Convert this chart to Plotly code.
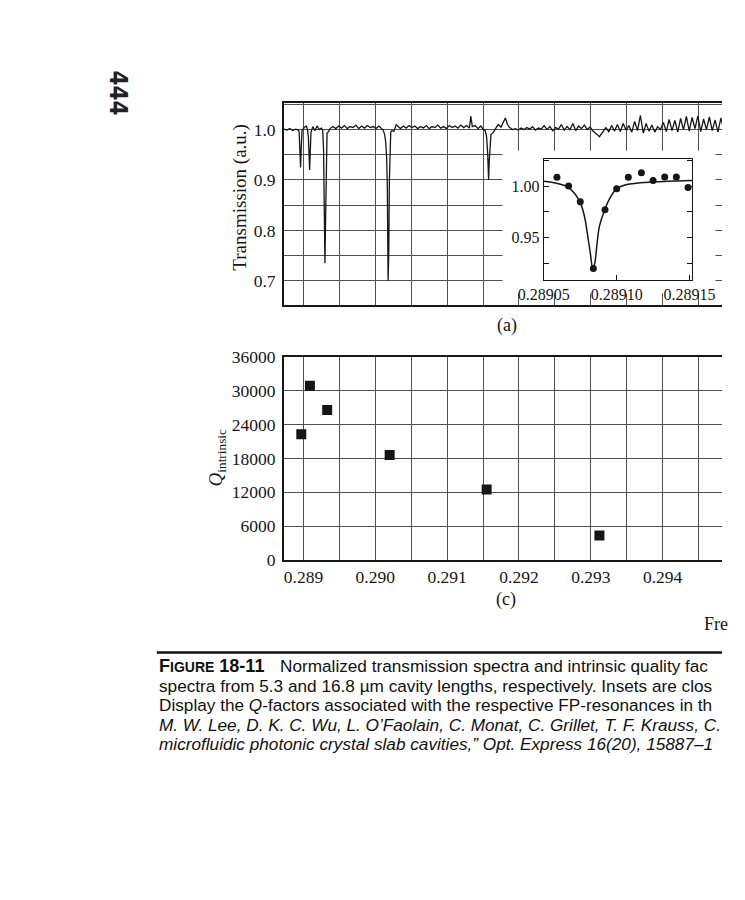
import plotly.graph_objects as go

# ---------------- data ----------------
# (a) transmission spectrum: frequency (a/lambda) and normalised transmission
spec_freq = [
    0.28873, 0.28877, 0.28881, 0.28885, 0.28889, 0.28893,
    0.28894, 0.288952, 0.28896, 0.288968, 0.28898, 0.28901, 0.28904, 0.289055,
    0.289068, 0.289078, 0.289086, 0.289094, 0.289105, 0.28913, 0.28916, 0.28919,
    0.28922, 0.28925, 0.289268,
    0.28928, 0.28929, 0.289299, 0.289308, 0.289317, 0.289328,
    0.28935, 0.28937, 0.28941, 0.28945, 0.28949, 0.28953, 0.28957, 0.28961,
    0.28965, 0.28969, 0.28973, 0.28977, 0.28981, 0.28985, 0.28989, 0.28993,
    0.28997, 0.29001, 0.29005, 0.29009,
    0.29011, 0.29013, 0.290145, 0.290158, 0.290168, 0.290178, 0.290188,
    0.290196, 0.290205, 0.290215, 0.29023,
    0.29026, 0.29029, 0.29032, 0.29035, 0.29039, 0.29043, 0.29047, 0.29051,
    0.29055, 0.29059, 0.29063, 0.29067, 0.29071, 0.29075, 0.29079, 0.29083,
    0.29087, 0.29091, 0.29095, 0.29099, 0.29103, 0.29107, 0.29111, 0.29115,
    0.29119, 0.29123, 0.29127, 0.29131, 0.29133, 0.29135, 0.29139, 0.29143,
    0.29147, 0.29150,
    0.29153, 0.29155, 0.291565, 0.291577, 0.291587, 0.291597, 0.29161,
    0.29164, 0.29167, 0.29171, 0.29175, 0.29178, 0.29181, 0.29184, 0.29187,
    0.29191, 0.29195, 0.29199, 0.29203, 0.29207, 0.29211, 0.29215, 0.29219,
    0.29223, 0.29227, 0.29231, 0.29235, 0.29239, 0.29243, 0.29247, 0.29251,
    0.29255, 0.29259, 0.29263, 0.29267, 0.29271, 0.29275, 0.29279, 0.29283,
    0.29287, 0.29291, 0.29295, 0.29299, 0.29303, 0.29306, 0.29309, 0.29312,
    0.29315, 0.29318, 0.29321, 0.29325, 0.29329, 0.29333, 0.29337, 0.29341,
    0.29345, 0.29349, 0.29353, 0.29357, 0.29361, 0.29365, 0.29369, 0.29373,
    0.29377, 0.29381, 0.29385, 0.29389, 0.29393, 0.29397, 0.29401, 0.29405,
    0.29409, 0.29413, 0.29417, 0.29421, 0.29425, 0.29429, 0.29433, 0.29437,
    0.29441, 0.29445, 0.29449, 0.29453, 0.29457, 0.29461, 0.29465, 0.29469,
    0.29473, 0.29477, 0.29481, 0.29485,
]
spec_trans = [
    1.001, 0.999, 1.002, 0.998, 1.001, 0.999,
    0.995, 0.950, 0.925, 0.960, 0.998, 1.004, 1.007, 1.001,
    0.985, 0.950, 0.920, 0.955, 0.995, 1.006, 0.998, 1.007,
    1.000, 1.003, 0.999,
    0.960, 0.850, 0.735, 0.820, 0.950, 0.993,
    0.996, 1.002, 1.006, 1.002, 1.007, 1.003, 1.008, 1.002,
    1.006, 1.004, 1.009, 1.002, 1.007, 1.003, 1.008, 1.004,
    1.006, 1.002, 1.007, 1.001,
    0.999, 0.990, 0.975, 0.945, 0.880, 0.700, 0.760,
    0.900, 0.975, 0.995, 0.998,
    0.997, 1.010, 1.005, 1.002, 1.007, 1.003, 1.008, 1.004,
    1.007, 1.002, 1.006, 1.003, 1.008, 1.002, 1.006, 1.004,
    1.009, 1.003, 1.006, 1.002, 1.008, 1.004, 1.007, 1.003,
    1.009, 1.004, 1.008, 1.003, 1.027, 1.006, 1.008, 1.002,
    1.007, 1.001,
    0.998, 0.985, 0.950, 0.900, 0.940, 0.975, 0.990,
    0.994, 1.001, 1.010, 1.005, 1.016, 1.023, 1.010, 1.004,
    1.000, 1.002, 0.999, 1.003, 1.000, 1.004, 1.001, 1.006,
    0.999, 1.003, 1.001, 1.008, 1.000, 1.006, 0.998, 1.004,
    1.001, 1.010, 0.999, 1.006, 1.000, 1.012, 0.998, 1.007,
    1.002, 1.009, 1.000, 1.005, 0.997, 0.994, 0.990, 0.986,
    0.992, 0.998, 1.004, 0.996, 1.008, 0.997, 1.010, 0.996,
    1.012, 0.999, 1.008, 0.995, 1.016, 0.998, 1.028, 0.993,
    1.012, 0.997, 1.009, 0.995, 1.006, 1.000, 1.014, 0.996,
    1.020, 0.998, 1.018, 0.995, 1.022, 1.000, 1.026, 0.997,
    1.024, 1.002, 1.027, 0.996, 1.021, 1.000, 1.025, 0.998,
    1.019, 0.995, 1.023, 1.001,
]

# inset: close-up of one resonance (measured points and fitted curve)
inset_freq = [0.289059, 0.289067, 0.289075, 0.289084, 0.289092, 0.289100,
              0.289108, 0.289117, 0.289125, 0.289133, 0.289141, 0.289149]
inset_trans = [1.0085, 1.0000, 0.9848, 0.9200, 0.9770, 0.9975,
               1.0085, 1.0130, 1.0054, 1.0088, 1.0088, 0.9987]
fit_freq = [0.28905, 0.289058, 0.289066, 0.289071, 0.289075, 0.289078,
            0.28908, 0.289082, 0.2890835, 0.289085, 0.2890865, 0.289088,
            0.289091, 0.289095, 0.2891, 0.289107, 0.289122, 0.289152]
fit_trans = [1.0047, 1.0030, 0.9995, 0.9930, 0.9840, 0.9700,
             0.9530, 0.9340, 0.9200, 0.9250, 0.9440, 0.9600,
             0.9740, 0.9874, 0.9975, 1.0016, 1.0038, 1.0054]

# (c) intrinsic Q of each resonance
q_freq = [0.28897, 0.28909, 0.28933, 0.29020, 0.29155, 0.29312]
q_val = [22300, 30900, 26600, 18600, 12500, 4300]

# tick labels
trans_tickvals = [0.7, 0.8, 0.9, 1.0]
trans_ticktext = ["0.7", "0.8", "0.9", "1.0"]
q_tickvals = [0, 6000, 12000, 18000, 24000, 30000, 36000]
q_ticktext = ["0", "6000", "12000", "18000", "24000", "30000", "36000"]
freq_tickvals = [0.289, 0.290, 0.291, 0.292, 0.293, 0.294]
freq_ticktext = ["0.289", "0.290", "0.291", "0.292", "0.293", "0.294"]
inset_xtickvals = [0.28905, 0.28910, 0.28915]
inset_xticktext = ["0.28905", "0.28910", "0.28915"]
inset_ytickvals = [0.95, 1.00]
inset_yticktext = ["0.95", "1.00"]

# caption text as visible on the (cropped) page
caption_first = "Normalized transmission spectra and intrinsic quality fac"
caption_lines = [
    "spectra from 5.3 and 16.8 µm cavity lengths, respectively. Insets are clos",
    "Display the <i>Q</i>-factors associated with the respective FP-resonances in th",
    "<i>M. W. Lee, D. K. C. Wu, L. O’Faolain, C. Monat, C. Grillet, T. F. Krauss, C.</i>",
    "<i>microfluidic photonic crystal slab cavities,” Opt. Express 16(20), 15887–1</i>",
]

# ---------------- figure ----------------
W, H = 745, 900


def fx(p):
    return p / W


def fy(p):
    return 1 - p / H


SERIF = "Liberation Serif, Times New Roman, serif"
SANS = "Liberation Sans, Arial, sans-serif"
INK = "#161616"
GRID = "#505050"
X_RANGE = [0.288727, 0.294826]

fig = go.Figure()

fig.add_trace(go.Scatter(x=spec_freq, y=spec_trans, mode="lines",
                         line=dict(color=INK, width=1.3),
                         xaxis="x", yaxis="y", showlegend=False))
fig.add_trace(go.Scatter(x=q_freq, y=q_val, mode="markers",
                         marker=dict(symbol="square", size=10, color=INK),
                         xaxis="x2", yaxis="y2", showlegend=False))
# blank white panel that the inset sits on
fig.add_trace(go.Scatter(x=[None], y=[None], xaxis="x3", yaxis="y3",
                         showlegend=False, hoverinfo="skip"))
fig.add_trace(go.Scatter(x=fit_freq, y=fit_trans, mode="lines",
                         line=dict(color=INK, width=1.5, shape="spline", smoothing=0.6),
                         xaxis="x4", yaxis="y4", showlegend=False))
fig.add_trace(go.Scatter(x=inset_freq, y=inset_trans, mode="markers",
                         marker=dict(size=7, color=INK),
                         xaxis="x4", yaxis="y4", showlegend=False))

tickfont = dict(family=SERIF, size=17.5, color=INK)
minor_x = dict(dtick=0.0005, tick0=0.289, showgrid=True, gridcolor=GRID,
               gridwidth=1, ticks="")

fig.update_layout(
    width=W, height=H, autosize=False,
    margin=dict(l=0, r=0, t=0, b=0),
    paper_bgcolor="white", plot_bgcolor="white",
    xaxis=dict(domain=[fx(276), 1], range=X_RANGE, anchor="y",
               showline=True, linecolor=INK, linewidth=1.5, mirror=True,
               ticks="", showticklabels=False, tickvals=freq_tickvals,
               showgrid=True, gridcolor=GRID, gridwidth=1, zeroline=False,
               minor=minor_x),
    yaxis=dict(domain=[fy(301.7), fy(95)], range=[0.652, 1.053], anchor="x",
               showline=True, linecolor=INK, linewidth=1.5, mirror=False,
               ticks="", tickvals=trans_tickvals, ticktext=trans_ticktext,
               tickfont=tickfont, ticklabelstandoff=3,
               showgrid=True, gridcolor=GRID, gridwidth=1,
               zeroline=False,
               minor=dict(dtick=0.05, tick0=0.7, showgrid=True,
                          gridcolor=GRID, gridwidth=1, ticks="")),
    xaxis2=dict(domain=[fx(276), 1], range=X_RANGE, anchor="y2",
                showline=True, linecolor=INK, linewidth=1.5, mirror=True,
                ticks="", tickvals=freq_tickvals, ticktext=freq_ticktext,
                tickfont=tickfont, showgrid=True, gridcolor=GRID, gridwidth=1,
                zeroline=False, minor=minor_x),
    yaxis2=dict(domain=[fy(562.3), fy(355)], range=[0, 36000], anchor="x2",
                showline=True, linecolor=INK, linewidth=1.5, mirror=False,
                ticks="", tickvals=q_tickvals, ticktext=q_ticktext,
                tickfont=tickfont, ticklabelstandoff=3,
                showgrid=True, gridcolor=GRID, gridwidth=1,
                zeroline=False),
    xaxis3=dict(domain=[fx(510), fx(738)], range=[0, 1], anchor="y3",
                visible=False),
    yaxis3=dict(domain=[fy(290), fy(144)], range=[0, 1], anchor="x3",
                visible=False),
    xaxis4=dict(domain=[fx(554.3), fx(713.3)], range=[0.28905, 0.289152],
                anchor="y4", showline=True, linecolor=INK, linewidth=1.2,
                mirror=True, ticks="inside", ticklen=5, tickcolor=INK,
                tickvals=inset_xtickvals, ticktext=inset_xticktext,
                tickfont=dict(family=SERIF, size=16, color=INK),
                showgrid=False, zeroline=False),
    yaxis4=dict(domain=[fy(276), fy(152.7)], range=[0.909, 1.026],
                anchor="x4", showline=True, linecolor=INK, linewidth=1.2,
                mirror="ticks", ticks="inside", ticklen=5, tickcolor=INK,
                tickvals=inset_ytickvals, ticktext=inset_yticktext,
                tickfont=dict(family=SERIF, size=16, color=INK),
                showgrid=False, zeroline=False,
                minor=dict(dtick=0.025, tick0=0.9, ticks="inside", ticklen=5,
                           tickcolor=INK, showgrid=False)),
)


def ann(text, x, y, size, family=SERIF, angle=0, xanchor="center", color=INK):
    fig.add_annotation(text=text, x=fx(x), y=fy(y), xref="paper", yref="paper",
                       showarrow=False, textangle=angle, xanchor=xanchor,
                       yanchor="middle", font=dict(family=family, size=size,
                                                   color=color))


ann("Transmission (a.u.)", 229.5, 191.5, 19, angle=-90)
ann("<i>Q</i><sub>intrinsic</sub>", 204, 458, 19, angle=-90)
ann("(a)", 515, 323, 18)
ann("(c)", 514, 603, 18)
ann("Fre", 724, 628, 18, xanchor="left")
ann("<b>444</b>", 98, 85, 24,
    family="Liberation Sans Narrow, DejaVu Sans Condensed, Liberation Sans",
    angle=90, color="#222")

# caption
CAP = "#111"
CAP_SIZE = 17.2
ann("<b>F<span style='font-size:14px'>IGURE</span> 18-11</b>", 140, 671, 18,
    family=SANS, xanchor="left", color=CAP)
ann(caption_first, 270, 671, CAP_SIZE, family=SANS, xanchor="left", color=CAP)
for i, line in enumerate(caption_lines):
    ann(line, 140, 691 + 20 * i, CAP_SIZE, family=SANS, xanchor="left", color=CAP)

fig.add_shape(type="line", xref="paper", yref="paper",
              x0=fx(140), x1=1, y0=fy(657), y1=fy(657),
              line=dict(color=CAP, width=2.5))

fig.write_html(
    "out.html",
    config={"displayModeBar": False},
    post_script=("document.body.style.margin='0px';"
                 "document.body.style.overflow='hidden';"
                 "document.documentElement.style.overflow='hidden';"),
)
